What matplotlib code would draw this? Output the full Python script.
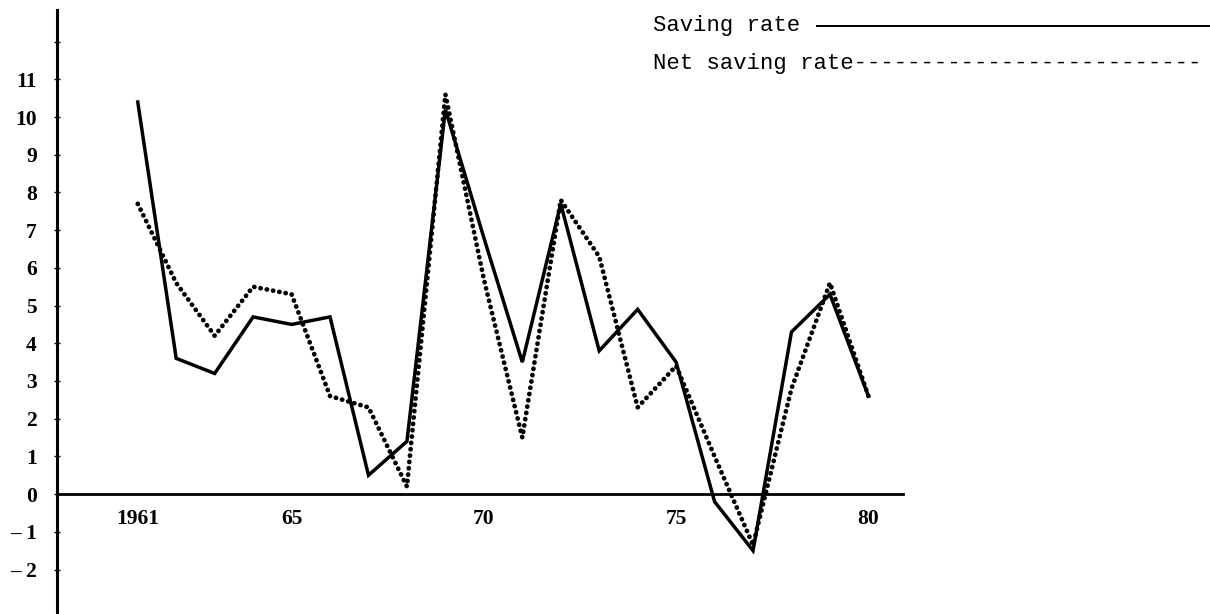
import matplotlib
matplotlib.use("Agg")
import matplotlib.pyplot as plt
from matplotlib.lines import Line2D

# values
years = list(range(1961, 1981))
saving_rate = [10.4, 3.6, 3.2, 4.7, 4.5, 4.7, 0.5, 1.4, 10.2, 6.8,
               3.5, 7.7, 3.8, 4.9, 3.5, -0.2, -1.5, 4.3, 5.3, 2.6]
net_saving_rate = [7.7, 5.6, 4.2, 5.5, 5.3, 2.6, 2.3, 0.2, 10.6, 5.7,
                   1.5, 7.8, 6.3, 2.3, 3.4, 1.0, -1.35, 2.8, 5.6, 2.6]

xticks = [1961, 1965, 1970, 1975, 1980]
xtick_labels = ["1961", "65", "70", "75", "80"]
yticks = list(range(-2, 12))
ytick_labels = ["\u2013 2", "\u2013 1"] + [str(v) for v in range(0, 12)]

W, H = 1210, 614
fig = plt.figure(figsize=(W / 100, H / 100), dpi=100)
ax = fig.add_axes([57 / W, 0, 846 / W, 604 / H])
ax.set_xlim(1958.9, 1980.9)
ax.set_ylim(-3.18, 12.84)

ax.plot(years, saving_rate, color="black", lw=2.5, solid_joinstyle="miter")
ax.plot(years, net_saving_rate, color="black", lw=3.4,
        linestyle=(0, (0.05, 1.3)), dash_capstyle="round")

for side in ("top", "right"):
    ax.spines[side].set_visible(False)
ax.spines["bottom"].set_position(("data", 0))
ax.spines["bottom"].set_linewidth(2.0)
ax.spines["left"].set_linewidth(2.2)

serif = {"family": "Liberation Serif", "weight": "bold", "size": 15.5}
ax.set_xticks(xticks)
ax.set_xticklabels(xtick_labels, fontdict=serif)
ax.tick_params(axis="x", length=0, pad=11)
ax.set_yticks(yticks)
ax.set_yticklabels(ytick_labels, fontdict=serif)
ax.set_yticks([12], minor=True)
ax.tick_params(axis="y", which="both", direction="inout", length=5, width=1, pad=12)

# typed legend in the upper right
mono = {"family": "Liberation Mono", "size": 16, "color": "black"}
fig.text(653 / W, 1 - 25 / H, "Saving rate", va="center", ha="left", **mono)
fig.add_artist(Line2D([817 / W, 1.0], [1 - 26 / H, 1 - 26 / H],
                      color="black", lw=1.4, transform=fig.transFigure))
fig.text(653 / W, 1 - 63 / H, "Net saving rate" + "-" * 26,
         va="center", ha="left", **mono)

fig.savefig("out.png", dpi=100)
